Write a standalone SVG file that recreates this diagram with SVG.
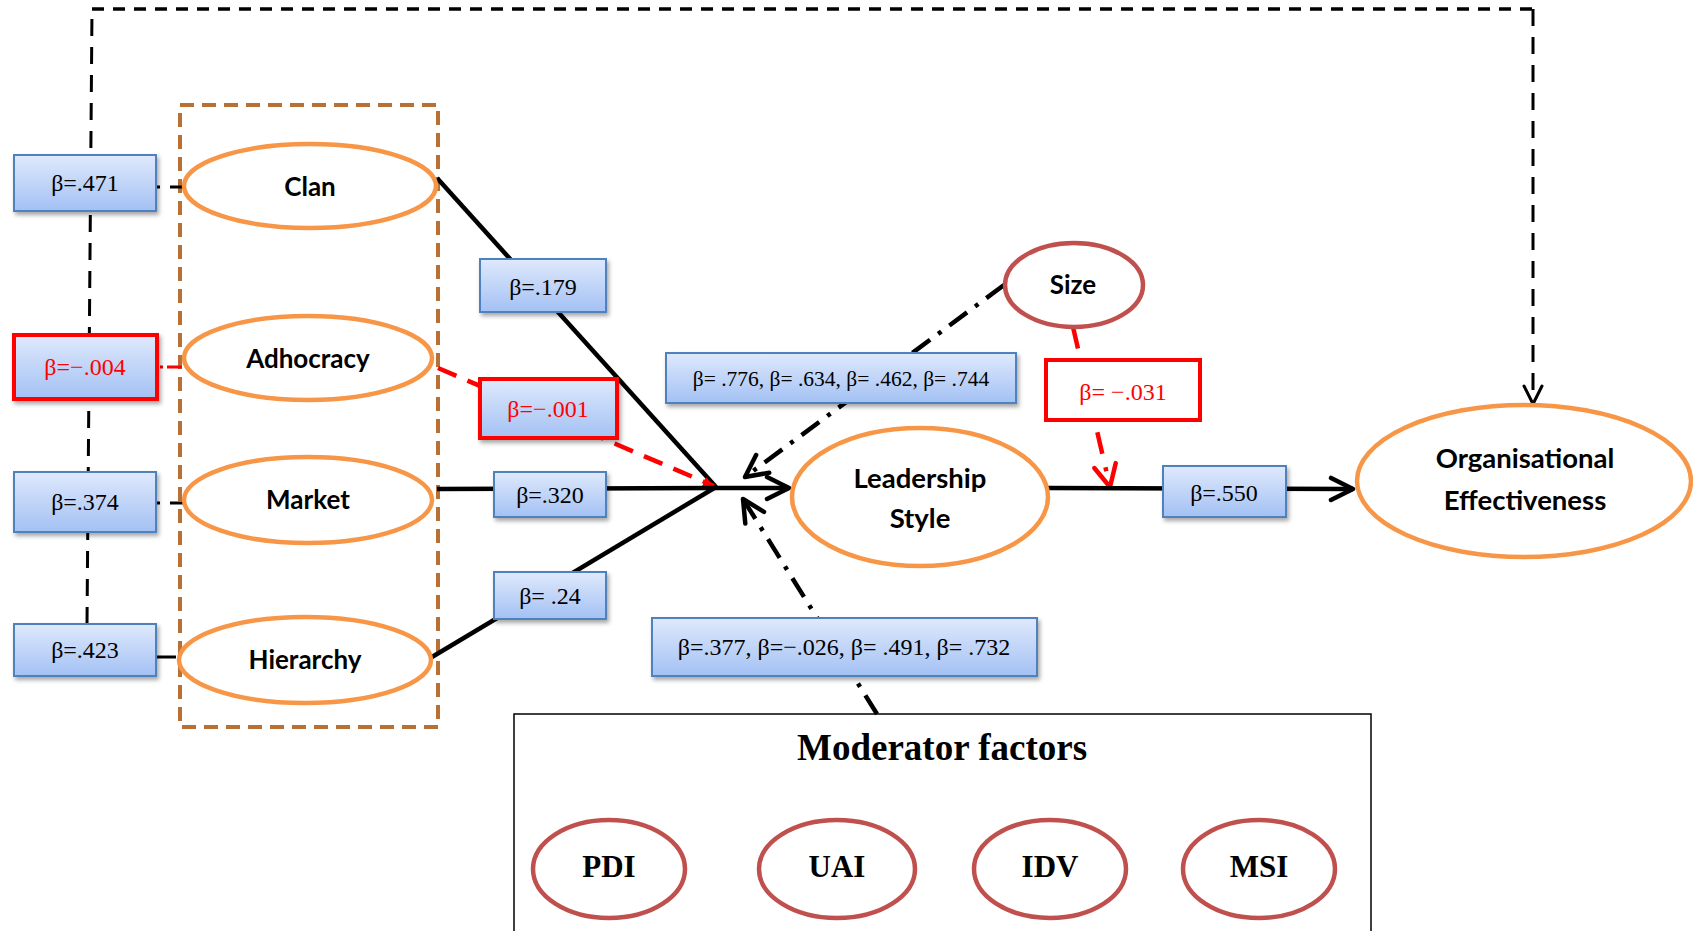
<svg xmlns="http://www.w3.org/2000/svg" width="1693" height="931" viewBox="0 0 1693 931">
  <style>
    .box { fill: url(#blueGrad); stroke: #4f81bd; stroke-width: 2; filter: url(#shadow); }
    .rbox { fill: url(#blueGrad); stroke: #ff0000; stroke-width: 4; filter: url(#shadow); }
    .wbox { fill: #ffffff; stroke: #ff0000; stroke-width: 4; }
    .lbl { font-family: "Liberation Serif", "Times New Roman", serif; font-size: 24px; text-anchor: middle; fill: #000; }
    .lbl.red { fill: #ff0000; }
    .lbl.small { font-size: 21.5px; }
    .node { fill: #ffffff; stroke: #f79646; stroke-width: 4.5; }
    .mnode { fill: #ffffff; stroke: #c0504d; stroke-width: 4.5; }
    .ntxt { font-family: Lato, "Liberation Sans", sans-serif; font-weight: 700; font-size: 26px; text-anchor: middle; fill: #000; }
    .ntxt.big { font-size: 27.5px; }
    .mtxt { font-family: "Liberation Serif", "Times New Roman", serif; font-weight: 700; font-size: 31px; text-anchor: middle; fill: #000; }
    .solid { fill: none; stroke: #000; stroke-width: 4.5; }
    .dash { fill: none; stroke: #000; stroke-width: 3; stroke-dasharray: 17 11; }
    .dashdot { fill: none; stroke: #000; stroke-width: 4.5; stroke-dasharray: 22 10 4 10; }
    .reddash { fill: none; stroke: #ff0000; stroke-width: 4.5; stroke-dasharray: 20 12; }
    .reddot { fill: none; stroke: #ff0000; stroke-width: 4.5; stroke-dasharray: 22 14 4 14; }
  </style>
  <defs>
    <linearGradient id="blueGrad" x1="0" y1="0" x2="0" y2="1">
      <stop offset="0" stop-color="#dfe9fc"/>
      <stop offset="1" stop-color="#a3c1f4"/>
    </linearGradient>
    <filter id="shadow" x="-10%" y="-10%" width="130%" height="140%">
      <feDropShadow dx="2" dy="3" stdDeviation="2" flood-color="#000" flood-opacity="0.35"/>
    </filter>
    <marker id="openArrow" markerUnits="userSpaceOnUse" markerWidth="28" markerHeight="28" viewBox="0 0 28 28" refX="25" refY="14" orient="auto">
      <path d="M3,3 L25,14 L3,25" fill="none" stroke="#000" stroke-width="4.5" stroke-linecap="round" stroke-linejoin="round"/>
    </marker>
    <marker id="thinArrow" markerUnits="userSpaceOnUse" markerWidth="22" markerHeight="22" viewBox="0 0 22 22" refX="20" refY="11" orient="auto">
      <path d="M2,2 L20,11 L2,20" fill="none" stroke="#000" stroke-width="3" stroke-linecap="round" stroke-linejoin="round"/>
    </marker>
    <marker id="redArrow" markerUnits="userSpaceOnUse" markerWidth="28" markerHeight="28" viewBox="0 0 28 28" refX="25" refY="14" orient="auto">
      <path d="M3,3 L25,14 L3,25" fill="none" stroke="#ff0000" stroke-width="4.5" stroke-linecap="round" stroke-linejoin="round"/>
    </marker>
    <marker id="redTip" markerUnits="userSpaceOnUse" markerWidth="12" markerHeight="12" viewBox="0 0 12 12" refX="11" refY="6" orient="auto">
      <path d="M0,1 L11,6 L0,11 Z" fill="#ff0000"/>
    </marker>
  </defs>

  <rect width="1693" height="931" fill="#ffffff"/>

  <!-- frame grouping the four culture types -->
  <g id="culture-frame">
    <rect x="180" y="105" width="258" height="622" fill="none" stroke="#b97034" stroke-width="4" stroke-dasharray="14 8"/>
  </g>

  <!-- connectors -->
  <g id="connectors">
    <!-- direct path culture → organisational effectiveness -->
    <path d="M87,624 L92,9" class="dash"/>
    <path d="M92,9 L1533,9" fill="none" stroke="#000" stroke-width="3.5" stroke-dasharray="12 9"/>
    <path d="M1533,9 L1533,404" class="dash" marker-end="url(#thinArrow)"/>
    <!-- stubs from coefficient boxes to culture types -->
    <path d="M157,187 L184,187" fill="none" stroke="#000" stroke-width="3" stroke-dasharray="3 10 16 4"/>
    <path d="M160,367 L182,367" fill="none" stroke="#ff0000" stroke-width="3" stroke-dasharray="3 4 15 4"/>
    <path d="M157,503 L184,503" fill="none" stroke="#000" stroke-width="3" stroke-dasharray="3 10 16 4"/>
    <path d="M157,657 L176,657" fill="none" stroke="#000" stroke-width="3"/>
    <!-- culture types → leadership -->
    <path d="M437,178 L716,487" class="solid"/>
    <path d="M438,368 L714,486" class="reddash" marker-end="url(#redTip)"/>
    <path d="M437,489 L716,488" class="solid"/>
    <path d="M432,657 L716,487" class="solid"/>
    <path d="M716,488 L789,488" class="solid" marker-end="url(#openArrow)"/>
    <!-- moderators -->
    <path d="M1004,285 L745,477" class="dashdot" marker-end="url(#openArrow)"/>
    <path d="M877,714 L743,499" class="dashdot" marker-end="url(#openArrow)"/>
    <path d="M1073,327 L1110,487" class="reddot" marker-end="url(#redArrow)"/>
    <!-- leadership → effectiveness -->
    <path d="M1048,488 L1353,489" class="solid" marker-end="url(#openArrow)"/>
  </g>

  <!-- culture types -->
  <g id="clan">
    <ellipse cx="310" cy="186" rx="126" ry="42" class="node"/>
    <text x="310" y="196" class="ntxt">Clan</text>
  </g>
  <g id="adhocracy">
    <ellipse cx="308" cy="358" rx="124" ry="42" class="node"/>
    <text x="308" y="368" class="ntxt">Adhocracy</text>
  </g>
  <g id="market">
    <ellipse cx="308" cy="500" rx="124" ry="43" class="node"/>
    <text x="308" y="509" class="ntxt">Market</text>
  </g>
  <g id="hierarchy">
    <ellipse cx="305" cy="660" rx="126" ry="43" class="node"/>
    <text x="305" y="669" class="ntxt">Hierarchy</text>
  </g>

  <g id="leadership">
    <ellipse cx="920" cy="497" rx="128" ry="69" class="node"/>
    <text x="920" y="488" class="ntxt big">Leadership</text>
    <text x="920" y="528" class="ntxt big">Style</text>
  </g>
  <g id="size">
    <ellipse cx="1074" cy="285" rx="69" ry="42" class="mnode"/>
    <text x="1073" y="294" class="ntxt">Size</text>
  </g>
  <g id="effectiveness">
    <ellipse cx="1524" cy="481" rx="167" ry="76" class="node"/>
    <text x="1525" y="468" class="ntxt big">Organisational</text>
    <text x="1525" y="510" class="ntxt big">Effectiveness</text>
  </g>

  <g id="moderators">
    <rect x="514" y="714" width="857" height="240" fill="none" stroke="#000" stroke-width="1.5"/>
    <text x="942" y="760" font-family="'Liberation Serif', 'Times New Roman', serif" font-weight="700" font-size="37" text-anchor="middle">Moderator factors</text>
  </g>
  <g id="pdi">
    <ellipse cx="609" cy="869" rx="76" ry="49" class="mnode"/>
    <text x="609" y="877" class="mtxt">PDI</text>
  </g>
  <g id="uai">
    <ellipse cx="837" cy="869" rx="78" ry="49" class="mnode"/>
    <text x="837" y="877" class="mtxt">UAI</text>
  </g>
  <g id="idv">
    <ellipse cx="1050" cy="869" rx="76" ry="49" class="mnode"/>
    <text x="1050" y="877" class="mtxt">IDV</text>
  </g>
  <g id="msi">
    <ellipse cx="1259" cy="869" rx="76" ry="49" class="mnode"/>
    <text x="1259" y="877" class="mtxt">MSI</text>
  </g>

  <!-- path coefficients -->
  <g id="b-clan-oe">
    <rect x="14" y="155" width="142" height="56" class="box"/>
    <text x="85" y="191" class="lbl">β=.471</text>
  </g>
  <g id="b-adhocracy-oe">
    <rect x="14" y="335" width="143" height="64" class="rbox"/>
    <text x="85" y="375" class="lbl red">β=−.004</text>
  </g>
  <g id="b-market-oe">
    <rect x="14" y="472" width="142" height="60" class="box"/>
    <text x="85" y="510" class="lbl">β=.374</text>
  </g>
  <g id="b-hierarchy-oe">
    <rect x="14" y="624" width="142" height="52" class="box"/>
    <text x="85" y="658" class="lbl">β=.423</text>
  </g>
  <g id="b-clan-ls">
    <rect x="480" y="259" width="126" height="53" class="box"/>
    <text x="543" y="295" class="lbl">β=.179</text>
  </g>
  <g id="b-adhocracy-ls">
    <rect x="480" y="379" width="137" height="59" class="rbox"/>
    <text x="548" y="417" class="lbl red">β=−.001</text>
  </g>
  <g id="b-market-ls">
    <rect x="494" y="472" width="112" height="45" class="box"/>
    <text x="550" y="503" class="lbl">β=.320</text>
  </g>
  <g id="b-hierarchy-ls">
    <rect x="494" y="572" width="112" height="47" class="box"/>
    <text x="550" y="604" class="lbl">β= .24</text>
  </g>
  <g id="b-size-paths">
    <rect x="666" y="353" width="350" height="50" class="box"/>
    <text x="841" y="386" class="lbl small">β= .776, β= .634, β= .462, β= .744</text>
  </g>
  <g id="b-moderator-paths">
    <rect x="652" y="618" width="385" height="58" class="box"/>
    <text x="844" y="655" class="lbl">β=.377, β=−.026, β= .491, β= .732</text>
  </g>
  <g id="b-size-ls-oe">
    <rect x="1046" y="360" width="154" height="60" class="wbox"/>
    <text x="1123" y="400" class="lbl red">β= −.031</text>
  </g>
  <g id="b-ls-oe">
    <rect x="1163" y="466" width="123" height="51" class="box"/>
    <text x="1224" y="501" class="lbl">β=.550</text>
  </g>
</svg>
